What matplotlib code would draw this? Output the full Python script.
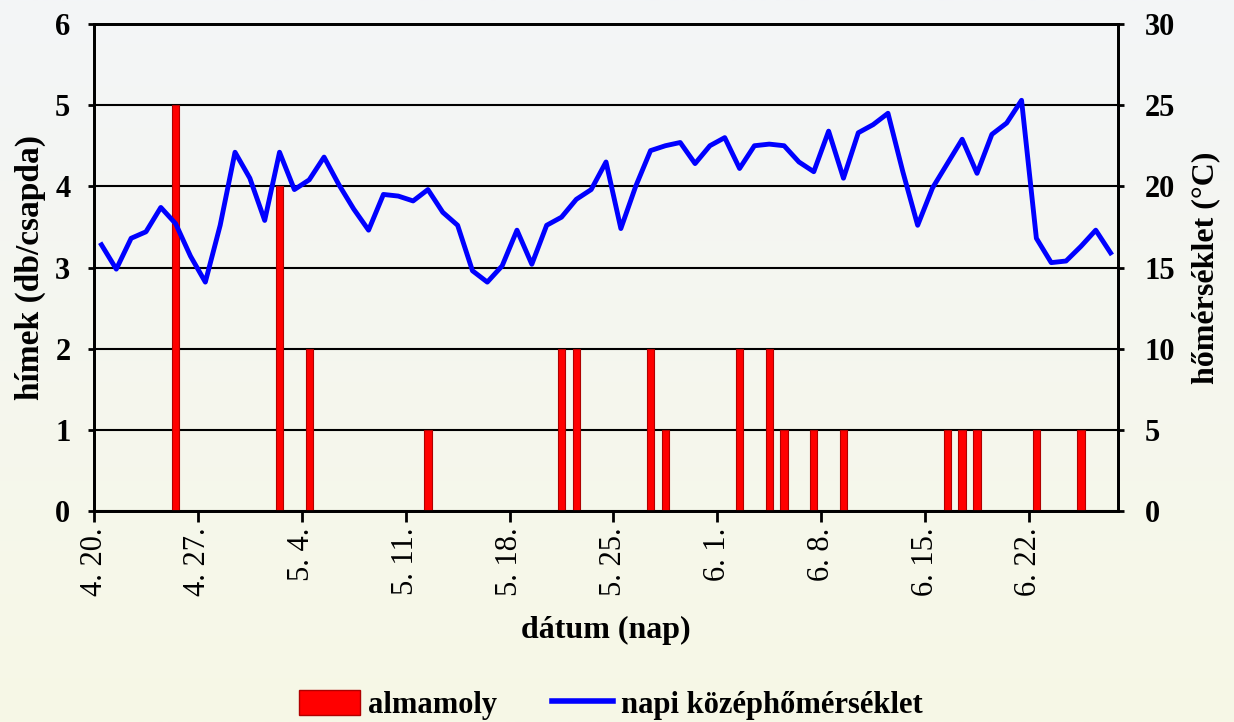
import numpy as np
import matplotlib
matplotlib.use("Agg")
import matplotlib.pyplot as plt
from matplotlib.lines import Line2D
from matplotlib.patches import Patch

# napi középhőmérséklet, 4.20. - 6.27. (°C)
temp = [16.4, 14.9, 16.8, 17.2, 18.7, 17.7, 15.7, 14.1, 17.6, 22.1,
        20.5, 17.9, 22.1, 19.8, 20.4, 21.8, 20.1, 18.6, 17.3, 19.5,
        19.4, 19.1, 19.8, 18.4, 17.6, 14.8, 14.1, 15.1, 17.3, 15.2,
        17.6, 18.1, 19.2, 19.8, 21.5, 17.4, 20.0, 22.2, 22.5, 22.7,
        21.4, 22.5, 23.0, 21.1, 22.5, 22.6, 22.5, 21.5, 20.9, 23.4,
        20.5, 23.3, 23.8, 24.5, 20.9, 17.6, 19.9, 21.4, 22.9, 20.8,
        23.2, 23.9, 25.3, 16.8, 15.3, 15.4, 16.3, 17.3, 15.9]

# almamoly fogások: nap sorszáma (4.20. = 0) és hímek száma
moth_day = [5, 12, 14, 22, 31, 32, 37, 38, 43, 45, 46, 48, 50, 57, 58, 59, 63, 66]
moth_count = [5, 4, 2, 1, 2, 2, 2, 1, 2, 2, 1, 1, 1, 1, 1, 1, 1, 1]

tick_labels = ["4. 20.", "4. 27.", "5. 4.", "5. 11.", "5. 18.",
               "5. 25.", "6. 1.", "6. 8.", "6. 15.", "6. 22."]

plt.rcParams["font.family"] = ["Liberation Serif", "DejaVu Serif"]

fig = plt.figure(figsize=(12.34, 7.22), dpi=100)

# háttér színátmenet
bg = fig.add_axes([0, 0, 1, 1], zorder=-10)
top = np.array([243, 245, 247]) / 255
bot = np.array([247, 248, 230]) / 255
t = np.linspace(0, 1, 256)[:, None]
grad = (top[None, :] * (1 - t) + bot[None, :] * t)[:, None, :]
bg.imshow(grad, aspect="auto", extent=[0, 1, 0, 1])
bg.axis("off")

ax = fig.add_axes([0.0762, 0.2922, 0.8298, 0.6746])
ax.patch.set_alpha(0)
n = len(temp)
x = np.arange(n) + 0.5

ax.bar(np.array(moth_day) + 0.5, moth_count, width=0.5, color="#ff0000",
       edgecolor="#b00000", linewidth=0.8, zorder=3)
ax.set_xlim(0, n)
ax.set_ylim(0, 6)
ax.set_yticks(range(0, 7))
ax.yaxis.grid(True, color="black", linewidth=1.5)
ax.set_axisbelow(True)
ax.set_xticks(np.arange(0, 64, 7))
ax.set_xticklabels(tick_labels, rotation=90, fontsize=22, va="top")
ax.tick_params(axis="x", length=8, width=2, pad=4)
ax.tick_params(axis="y", length=4, width=2, labelsize=22, pad=13)
for lab in ax.get_yticklabels():
    lab.set_fontweight("bold")
for s in ax.spines.values():
    s.set_linewidth(2)
ax.set_ylabel("hímek (db/csapda)", fontsize=24, fontweight="bold", va="center")
ax.yaxis.set_label_coords(-0.062, 0.5)
ax.set_xlabel("dátum (nap)", fontsize=23, fontweight="bold", labelpad=14)

ax2 = ax.twinx()
ax2.plot(x, temp, color="#0000ff", linewidth=3.5, solid_joinstyle="round")
ax2.set_ylim(0, 30)
ax2.set_yticks(range(0, 31, 5))
ax2.tick_params(axis="y", length=4, width=2, labelsize=22, pad=15)
for lab in ax2.get_yticklabels():
    lab.set_fontweight("bold")
ax2.set_ylabel("hőmérséklet (°C)", fontsize=23, fontweight="bold", va="center")
ax2.yaxis.set_label_coords(1.086, 0.5)
for s in ax2.spines.values():
    s.set_linewidth(2)

handles = [Patch(facecolor="#ff0000", edgecolor="#b00000", label="almamoly"),
           Line2D([0], [0], color="#0000ff", linewidth=4, label="napi középhőmérséklet")]
fig.legend(handles=handles, loc="lower center", bbox_to_anchor=(0.495, -0.035),
           ncol=2, frameon=False, prop={"size": 22, "weight": "bold"},
           handlelength=2.0, handleheight=0.9, columnspacing=1.8, handletextpad=0.25)

fig.savefig("out.png", dpi=100)
